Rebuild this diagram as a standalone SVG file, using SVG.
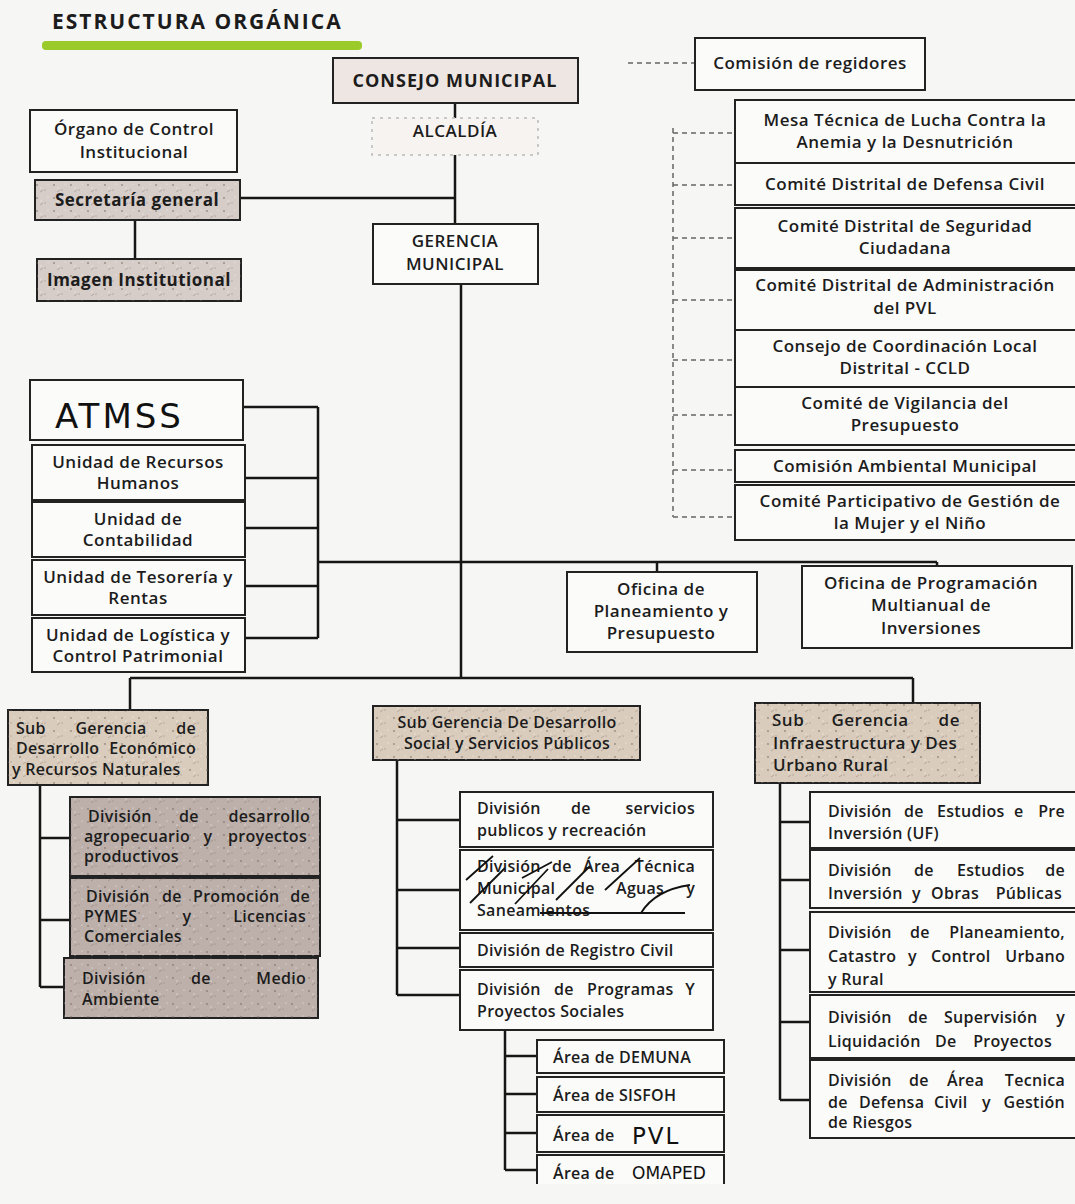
<svg xmlns="http://www.w3.org/2000/svg" width="1075" height="1204" viewBox="0 0 1075 1204">
<defs>
<pattern id="speck" width="17" height="13" patternUnits="userSpaceOnUse">
<circle cx="3" cy="3" r="0.9" fill="#6d5f55" opacity="0.6"/>
<circle cx="11" cy="8" r="0.7" fill="#8a7a70" opacity="0.6"/>
<path d="M6 10 l3 -2" stroke="#7d6e64" stroke-width="0.8" opacity="0.5"/>
<circle cx="14" cy="2" r="0.6" fill="#fff" opacity="0.7"/>
<circle cx="7" cy="6" r="0.7" fill="#fff" opacity="0.6"/>
</pattern>
<style>
.box{fill:#fbfbfa;stroke:#222;stroke-width:2}
.gray{fill:#d6ccc8;stroke:#222;stroke-width:2}
.tan{fill:#d9ccbd;stroke:#222;stroke-width:2}
.dark{fill:#bdb0aa;stroke:#222;stroke-width:2}
.tex{fill:url(#speck);stroke:none}
.t{font-family:"Open Sans","Liberation Sans",sans-serif;font-size:17px;font-weight:600;fill:#1c1c1c;letter-spacing:0.5px}
.s16{font-size:16px;letter-spacing:0.3px}
.c{text-anchor:middle}
.e{text-anchor:end}
.b{font-weight:700}
.hand{font-family:"DejaVu Sans","Liberation Sans",sans-serif;font-weight:400;fill:#111}
.ln{stroke:#161616;stroke-width:2.5;fill:none}
.dash{stroke:#666;stroke-width:1.5;stroke-dasharray:5 4;fill:none}
</style>
</defs>
<rect width="1075" height="1204" fill="#f6f6f4"/>

<g id="title">
<text class="t b" x="52" y="29" style="font-size:21px;letter-spacing:2px">ESTRUCTURA ORGÁNICA</text>
<rect x="42" y="41" width="320" height="9" rx="4" fill="#9acb2a"/>
</g>

<g id="connectors">
<path class="ln" d="M455 103 V118 M455 155 V224 M240 198 H455 M135 220 V259 M461 284 V678"/>
<path class="ln" d="M243 407 H318 M245 478 H318 M245 528 H318 M245 586 H318 M245 638 H318 M318 407 V638 M318 562 H937 M657 562 V572 M937 562 V566"/>
<path class="ln" d="M130 678 H913 M130 678 V710 M913 678 V703"/>
<path class="ln" d="M40 785 V987 M40 838 H70 M40 920 H70 M40 987 H64"/>
<path class="ln" d="M397 760 V995 M397 820 H460 M397 890 H460 M397 948 H460 M397 995 H460"/>
<path class="ln" d="M505 1030 V1170 M505 1056 H537 M505 1094 H537 M505 1133 H537 M505 1170 H537"/>
<path class="ln" d="M780 783 V1100 M780 822 H810 M780 880 H810 M780 950 H810 M780 1022 H810 M780 1100 H810"/>
<path class="dash" d="M628 63 H695 M673 128 V517 M673 133 H735 M673 185 H735 M673 238 H735 M673 300 H735 M673 360 H735 M673 415 H735 M673 470 H735 M673 517 H735"/>
</g>

<g id="consejo">
<rect x="333" y="58" width="245" height="45" fill="#eee6e2" stroke="#222" stroke-width="2"/>
<text class="t c b" x="455" y="87" style="font-size:18px;letter-spacing:1px">CONSEJO MUNICIPAL</text>
</g>
<g id="alcaldia">
<rect x="372" y="118" width="166" height="37" fill="#f7f3f1" stroke="#bbb" stroke-width="1.5" stroke-dasharray="3 5"/>
<text class="t c" x="455" y="137">ALCALDÍA</text>
</g>
<g id="organo">
<rect class="box" x="30" y="110" width="207" height="62"/>
<text class="t c" x="134" y="135">Órgano de Control</text>
<text class="t c" x="134" y="158">Institucional</text>
</g>
<g id="secretaria">
<rect class="gray" x="35" y="180" width="205" height="40"/>
<rect class="tex" x="35" y="180" width="205" height="40"/>
<text class="t c b" x="137" y="206">Secretaría general</text>
</g>
<g id="imagen">
<rect class="gray" x="37" y="259" width="204" height="42"/>
<rect class="tex" x="37" y="259" width="204" height="42"/>
<text class="t c b" x="139" y="286">Imagen Institutional</text>
</g>
<g id="gerencia">
<rect class="box" x="373" y="224" width="165" height="60"/>
<text class="t c" x="455" y="247">GERENCIA</text>
<text class="t c" x="455" y="270">MUNICIPAL</text>
</g>

<g id="comision-regidores">
<rect class="box" x="695" y="38" width="230" height="52"/>
<text class="t c" x="810" y="69">Comisión de regidores</text>
</g>
<g id="mesa">
<rect class="box" x="735" y="100" width="345" height="63"/>
<text class="t c" x="905" y="126">Mesa Técnica de Lucha Contra la</text>
<text class="t c" x="905" y="148">Anemia y la Desnutrición</text>
</g>
<g id="defensa-civil">
<rect class="box" x="735" y="163" width="345" height="42"/>
<text class="t c" x="905" y="190">Comité Distrital de Defensa Civil</text>
</g>
<g id="seguridad">
<rect class="box" x="735" y="208" width="345" height="60"/>
<text class="t c" x="905" y="232">Comité Distrital de Seguridad</text>
<text class="t c" x="905" y="254">Ciudadana</text>
</g>
<g id="pvl-comite">
<rect class="box" x="735" y="270" width="345" height="60"/>
<text class="t c" x="905" y="291">Comité Distrital de Administración</text>
<text class="t c" x="905" y="314">del PVL</text>
</g>
<g id="ccld">
<rect class="box" x="735" y="330" width="345" height="57"/>
<text class="t c" x="905" y="352">Consejo de Coordinación Local</text>
<text class="t c" x="905" y="374">Distrital - CCLD</text>
</g>
<g id="vigilancia">
<rect class="box" x="735" y="387" width="345" height="58"/>
<text class="t c" x="905" y="409">Comité de Vigilancia del</text>
<text class="t c" x="905" y="431">Presupuesto</text>
</g>
<g id="ambiental">
<rect class="box" x="735" y="450" width="345" height="32"/>
<text class="t c" x="905" y="472">Comisión Ambiental Municipal</text>
</g>
<g id="participativo">
<rect class="box" x="735" y="485" width="345" height="55"/>
<text class="t c" x="910" y="507">Comité Participativo de Gestión de</text>
<text class="t c" x="910" y="529">la Mujer y el Niño</text>
</g>

<g id="atmss">
<rect class="box" x="30" y="380" width="213" height="60"/>
<text class="hand" x="55" y="428" font-size="34" letter-spacing="3">ATMSS</text>
</g>
<g id="recursos-humanos">
<rect class="box" x="32" y="445" width="213" height="55"/>
<text class="t c" x="138" y="468">Unidad de Recursos</text>
<text class="t c" x="138" y="489">Humanos</text>
</g>
<g id="contabilidad">
<rect class="box" x="32" y="502" width="213" height="55"/>
<text class="t c" x="138" y="525">Unidad de</text>
<text class="t c" x="138" y="546">Contabilidad</text>
</g>
<g id="tesoreria">
<rect class="box" x="32" y="560" width="213" height="55"/>
<text class="t c" x="138" y="583">Unidad de Tesorería y</text>
<text class="t c" x="138" y="604">Rentas</text>
</g>
<g id="logistica">
<rect class="box" x="32" y="618" width="213" height="54"/>
<text class="t c" x="138" y="641">Unidad de Logística y</text>
<text class="t c" x="138" y="662">Control Patrimonial</text>
</g>

<g id="planeamiento">
<rect class="box" x="567" y="572" width="190" height="80"/>
<text class="t c" x="661" y="595">Oficina de</text>
<text class="t c" x="661" y="617">Planeamiento y</text>
<text class="t c" x="661" y="639">Presupuesto</text>
</g>
<g id="programacion">
<rect class="box" x="802" y="566" width="270" height="82"/>
<text class="t c" x="931" y="589">Oficina de Programación</text>
<text class="t c" x="931" y="611">Multianual de</text>
<text class="t c" x="931" y="634">Inversiones</text>
</g>

<g id="sub-economico">
<rect class="tan" x="8" y="710" width="200" height="75"/>
<rect class="tex" x="8" y="710" width="200" height="75"/>
<text class="t s16" x="16" y="734">Sub</text><text class="t s16 c" x="111" y="734">Gerencia</text><text class="t s16 e" x="196" y="734">de</text>
<text class="t s16" x="16" y="754">Desarrollo</text><text class="t s16 e" x="196" y="754">Económico</text>
<text class="t s16" x="12" y="775">y Recursos Naturales</text>
</g>
<g id="div-agropecuario">
<rect class="dark" x="70" y="797" width="250" height="79"/>
<rect class="tex" x="70" y="797" width="250" height="79"/>
<text class="t s16" x="88" y="822">División</text><text class="t s16 c" x="189" y="822">de</text><text class="t s16 e" x="310" y="822">desarrollo</text>
<text class="t s16" x="84" y="842">agropecuario</text><text class="t s16 c" x="208" y="842">y</text><text class="t s16 e" x="307" y="842">proyectos</text>
<text class="t s16" x="84" y="862">productivos</text>
</g>
<g id="div-pymes">
<rect class="dark" x="70" y="878" width="250" height="78" fill="#b6a9a3"/>
<rect class="tex" x="70" y="878" width="250" height="78"/>
<text class="t s16" x="86" y="902">División</text><text class="t s16" x="162" y="902">de</text><text class="t s16" x="193" y="902">Promoción</text><text class="t s16 e" x="310" y="902">de</text>
<text class="t s16" x="84" y="922">PYMES</text><text class="t s16 c" x="187" y="922">y</text><text class="t s16 e" x="306" y="922">Licencias</text>
<text class="t s16" x="84" y="942">Comerciales</text>
</g>
<g id="div-medio-ambiente">
<rect class="dark" x="64" y="958" width="254" height="60" fill="#b3a6a0"/>
<rect class="tex" x="64" y="958" width="254" height="60"/>
<text class="t s16" x="82" y="984">División</text><text class="t s16 c" x="201" y="984">de</text><text class="t s16 e" x="306" y="984">Medio</text>
<text class="t s16" x="82" y="1005">Ambiente</text>
</g>

<g id="sub-social">
<rect class="tan" x="373" y="706" width="267" height="54"/>
<rect class="tex" x="373" y="706" width="267" height="54"/>
<text class="t s16 c" x="507" y="728">Sub Gerencia De Desarrollo</text>
<text class="t s16 c" x="507" y="749">Social y Servicios Públicos</text>
</g>
<g id="div-servicios">
<rect class="box" x="460" y="792" width="253" height="55"/>
<text class="t s16" x="477" y="814">División</text><text class="t s16 c" x="581" y="814">de</text><text class="t s16 e" x="695" y="814">servicios</text>
<text class="t s16" x="477" y="836">publicos y recreación</text>
</g>
<g id="div-aguas">
<rect class="box" x="460" y="850" width="253" height="80"/>
<text class="t s16" x="477" y="872">División</text><text class="t s16" x="552" y="872">de</text><text class="t s16" x="583" y="872">Área</text><text class="t s16 e" x="695" y="872">Técnica</text>
<text class="t s16" x="477" y="894">Municipal</text><text class="t s16" x="575" y="894">de</text><text class="t s16" x="616" y="894">Aguas</text><text class="t s16 e" x="695" y="894">y</text>
<text class="t s16" x="477" y="916">Saneamientos</text>
<path d="M466 880 L493 856 M470 903 L505 868 M515 904 L548 869 M556 900 L590 866 M605 890 L640 858 M641 913 Q655 890 690 885 M540 913 H685 M522 878 L552 862" stroke="#111" stroke-width="1.8" fill="none"/>
</g>
<g id="div-registro">
<rect class="box" x="460" y="933" width="253" height="34"/>
<text class="t s16" x="477" y="956">División de Registro Civil</text>
</g>
<g id="div-programas">
<rect class="box" x="460" y="970" width="253" height="60"/>
<text class="t s16" x="477" y="995">División</text><text class="t s16" x="554" y="995">de</text><text class="t s16" x="587" y="995">Programas</text><text class="t s16 e" x="695" y="995">Y</text>
<text class="t s16" x="477" y="1017">Proyectos Sociales</text>
</g>
<g id="area-demuna">
<rect class="box" x="537" y="1040" width="187" height="33"/>
<text class="t s16" x="553" y="1063">Área de DEMUNA</text>
</g>
<g id="area-sisfoh">
<rect class="box" x="537" y="1077" width="187" height="35"/>
<text class="t s16" x="553" y="1101">Área de SISFOH</text>
</g>
<g id="area-pvl">
<rect class="box" x="537" y="1115" width="187" height="37"/>
<text class="t s16" x="553" y="1141">Área de</text>
<text class="hand" x="632" y="1144" font-size="23" letter-spacing="2">PVL</text>
</g>
<g id="area-omaped">
<path class="box" d="M537 1184 V1155 H724 V1184"/>
<text class="t s16" x="553" y="1179">Área de</text>
<text class="hand" x="632" y="1179" font-size="17">OMAPED</text>
</g>

<g id="sub-infraestructura">
<rect class="tan" x="755" y="703" width="225" height="80"/>
<rect class="tex" x="755" y="703" width="225" height="80"/>
<text class="t" x="772" y="726">Sub</text><text class="t c" x="870" y="726">Gerencia</text><text class="t e" x="960" y="726">de</text>
<text class="t" x="773" y="749">Infraestructura y Des</text>
<text class="t" x="773" y="771">Urbano Rural</text>
</g>
<g id="div-preinversion">
<rect class="box" x="810" y="792" width="270" height="56"/>
<text class="t s16" x="828" y="817">División</text><text class="t s16" x="904" y="817">de</text><text class="t s16" x="937" y="817">Estudios</text><text class="t s16" x="1014" y="817">e</text><text class="t s16 e" x="1065" y="817">Pre</text>
<text class="t s16" x="828" y="839">Inversión (UF)</text>
</g>
<g id="div-obras">
<rect class="box" x="810" y="850" width="270" height="58"/>
<text class="t s16" x="828" y="876">División</text><text class="t s16" x="914" y="876">de</text><text class="t s16" x="957" y="876">Estudios</text><text class="t s16 e" x="1065" y="876">de</text>
<text class="t s16" x="828" y="899">Inversión</text><text class="t s16" x="912" y="899">y</text><text class="t s16" x="931" y="899">Obras</text><text class="t s16 e" x="1062" y="899">Públicas</text>
</g>
<g id="div-catastro">
<rect class="box" x="810" y="912" width="270" height="80"/>
<text class="t s16" x="828" y="938">División</text><text class="t s16" x="910" y="938">de</text><text class="t s16 e" x="1065" y="938">Planeamiento,</text>
<text class="t s16" x="828" y="962">Catastro</text><text class="t s16" x="908" y="962">y</text><text class="t s16" x="931" y="962">Control</text><text class="t s16 e" x="1065" y="962">Urbano</text>
<text class="t s16" x="828" y="985">y Rural</text>
</g>
<g id="div-supervision">
<rect class="box" x="810" y="995" width="270" height="63"/>
<text class="t s16" x="828" y="1023">División</text><text class="t s16" x="908" y="1023">de</text><text class="t s16" x="944" y="1023">Supervisión</text><text class="t s16 e" x="1065" y="1023">y</text>
<text class="t s16" x="828" y="1047">Liquidación</text><text class="t s16" x="935" y="1047">De</text><text class="t s16 e" x="1052" y="1047">Proyectos</text>
</g>
<g id="div-riesgos">
<rect class="box" x="810" y="1060" width="270" height="78"/>
<text class="t s16" x="828" y="1086">División</text><text class="t s16" x="909" y="1086">de</text><text class="t s16" x="947" y="1086">Área</text><text class="t s16 e" x="1065" y="1086">Tecnica</text>
<text class="t s16" x="828" y="1108">de</text><text class="t s16" x="859" y="1108">Defensa</text><text class="t s16" x="934" y="1108">Civil</text><text class="t s16" x="982" y="1108">y</text><text class="t s16 e" x="1065" y="1108">Gestión</text>
<text class="t s16" x="828" y="1128">de Riesgos</text>
</g>
</svg>
